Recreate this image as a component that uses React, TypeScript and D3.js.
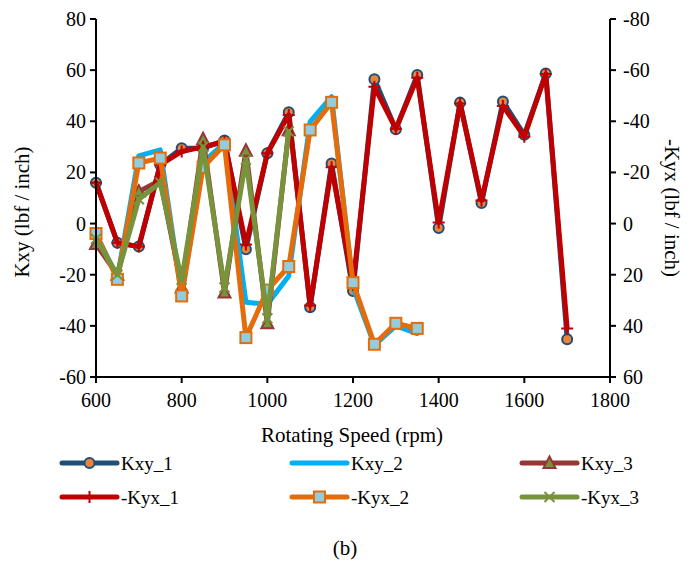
import React from "react";
import * as d3 from "d3";

const speeds = [600, 650, 700, 750, 800, 850, 900, 950, 1000, 1050, 1100, 1150, 1200, 1250, 1300, 1350, 1400, 1450, 1500, 1550, 1600, 1650, 1700];

const kxy1 = [16, -7.5, -9, 23, 29.5, 29.5, 32.5, -10, 27.5, 43.5, -32.7, 23.5, -26.4, 56.4, 36.9, 58.1, -1.7, 47.3, 8, 47.7, 34.7, 58.7, -45.2];
const kxy2 = [-4, -21, 26.5, 28.8, -28, 24, 31.5, -30.8, -31.5, -20.5, 39.9, 49.6, -25, -47.5, -40, -43];
const kxy3 = [-8, -20, 12.5, 17, -25, 33, -27, 28.5, -39, 36.5];
// -Kyx series in right-axis units (right axis runs -80 at top to 60 at bottom)
const negKyx1 = [-16, 7.5, 9, -23, -28.2, -30, -32, 8.2, -27.5, -42.5, 32, -22, 24, -53.5, -37, -57, -0.4, -47, -9, -46, -34, -58.5, 41];
const negKyx2 = [3.9, 21.8, -23.7, -25.6, 28.3, -22, -30.8, 44.6, 26, 16.8, -36.6, -47.4, 23.1, 47.2, 39, 41];
const negKyx3 = [6, 20, -9.5, -16, 22, -30, 25, -25, 37, -36];

const xTicks = [600, 800, 1000, 1200, 1400, 1600, 1800];
const yTicksLeft = [-60, -40, -20, 0, 20, 40, 60, 80];
const yTicksRight = [-80, -60, -40, -20, 0, 20, 40, 60];

type Marker = "circle" | "none" | "triangle" | "plus" | "square" | "x";
interface Series { name: string; values: number[]; axis: "left" | "right"; color: string; marker: Marker; mFill: string; mStroke: string; }

const series: Series[] = [
  { name: "Kxy_1", values: kxy1, axis: "left", color: "#1F4E79", marker: "circle", mFill: "#E8853A", mStroke: "#1F4E79" },
  { name: "Kxy_2", values: kxy2, axis: "left", color: "#00B0F0", marker: "none", mFill: "none", mStroke: "none" },
  { name: "Kxy_3", values: kxy3, axis: "left", color: "#953735", marker: "triangle", mFill: "#77933C", mStroke: "#953735" },
  { name: "-Kyx_1", values: negKyx1, axis: "right", color: "#C00000", marker: "plus", mFill: "none", mStroke: "#C00000" },
  { name: "-Kyx_2", values: negKyx2, axis: "right", color: "#E46C0A", marker: "square", mFill: "#93CDDD", mStroke: "#E46C0A" },
  { name: "-Kyx_3", values: negKyx3, axis: "right", color: "#77933C", marker: "x", mFill: "none", mStroke: "#77933C" },
];

const W = 691, H = 563;
const L = 96, R = 610, T = 19, B = 377;
const FONT = "Liberation Serif, Times New Roman, serif";
const txt: React.CSSProperties = { fontFamily: FONT };

function MarkerShape({ s, x, y }: { s: Series; x: number; y: number }) {
  switch (s.marker) {
    case "circle":
      return <circle cx={x} cy={y} r={5} fill={s.mFill} stroke={s.mStroke} strokeWidth={2} />;
    case "triangle":
      return <path d={`M${x},${y - 6.5}L${x + 6},${y + 5}L${x - 6},${y + 5}Z`} fill={s.mFill} stroke={s.mStroke} strokeWidth={2} />;
    case "square":
      return <rect x={x - 5.5} y={y - 5.5} width={11} height={11} fill={s.mFill} stroke={s.mStroke} strokeWidth={2} />;
    case "plus":
      return <path d={`M${x - 6},${y}H${x + 6}M${x},${y - 6}V${y + 6}`} stroke={s.mStroke} strokeWidth={2} />;
    case "x":
      return <path d={`M${x - 5},${y - 5}L${x + 5},${y + 5}M${x - 5},${y + 5}L${x + 5},${y - 5}`} stroke={s.mStroke} strokeWidth={2} />;
    default:
      return null;
  }
}

export default function App() {
  const x = d3.scaleLinear().domain([600, 1800]).range([L, R]);
  const yL = d3.scaleLinear().domain([-60, 80]).range([B, T]);
  const yR = d3.scaleLinear().domain([60, -80]).range([B, T]);

  const legendCols = [62, 292, 522];
  const legendRows = [463, 497];

  return (
    <svg width={W} height={H} style={{ position: "absolute", left: 0, top: 0, background: "#fff", fontFamily: FONT }}>
      <rect width={W} height={H} fill="#fff" />
      {series.map((s) => {
        const yS = s.axis === "left" ? yL : yR;
        const pts: [number, number][] = s.values.map((v, i) => [x(speeds[i]), yS(v)]);
        const line = d3.line();
        return (
          <g key={s.name}>
            <path d={line(pts) || ""} fill="none" stroke={s.color} strokeWidth={5} strokeLinejoin="round" strokeLinecap="round" />
            {pts.map((p, i) => <MarkerShape key={i} s={s} x={p[0]} y={p[1]} />)}
          </g>
        );
      })}
      <g stroke="#000" strokeWidth={2}>
        <line x1={L} y1={T} x2={L} y2={B} />
        <line x1={R} y1={T} x2={R} y2={B} />
        <line x1={L} y1={B} x2={R} y2={B} />
        {yTicksLeft.map((t) => <line key={"l" + t} x1={L - 6} x2={L} y1={yL(t)} y2={yL(t)} />)}
        {yTicksRight.map((t) => <line key={"r" + t} x1={R} x2={R + 6} y1={yR(t)} y2={yR(t)} />)}
        {xTicks.map((t) => <line key={"x" + t} x1={x(t)} x2={x(t)} y1={B} y2={B + 6} />)}
      </g>
      <g fontSize={20} fill="#000">
        {yTicksLeft.map((t) => <text key={"lt" + t} style={txt} x={L - 10} y={yL(t)} textAnchor="end" dominantBaseline="central">{t}</text>)}
        {yTicksRight.map((t) => <text key={"rt" + t} style={txt} x={R + 13} y={yR(t)} textAnchor="start" dominantBaseline="central">{t}</text>)}
        {xTicks.map((t) => <text key={"xt" + t} style={txt} x={x(t)} y={B + 23} textAnchor="middle" dominantBaseline="central">{t}</text>)}
      </g>
      <text style={txt} x={352} y={435} fontSize={21} textAnchor="middle" dominantBaseline="central">Rotating Speed (rpm)</text>
      <text style={txt} transform={`translate(22,212) rotate(-90)`} fontSize={21} textAnchor="middle" dominantBaseline="central">Kxy (lbf / inch)</text>
      <text style={txt} transform={`translate(672,208) rotate(90)`} fontSize={21} textAnchor="middle" dominantBaseline="central">-Kyx (lbf / inch)</text>
      {series.map((s, i) => {
        const cx = legendCols[i % 3];
        const cy = legendRows[Math.floor(i / 3)];
        return (
          <g key={"lg" + s.name}>
            <line x1={cx} x2={cx + 55} y1={cy} y2={cy} stroke={s.color} strokeWidth={5} strokeLinecap="round" />
            <MarkerShape s={s} x={cx + 27.5} y={cy} />
            <text style={txt} x={cx + 59} y={cy} fontSize={19} dominantBaseline="central">{s.name}</text>
          </g>
        );
      })}
      <text style={txt} x={345} y={548} fontSize={21} textAnchor="middle" dominantBaseline="central">(b)</text>
    </svg>
  );
}
